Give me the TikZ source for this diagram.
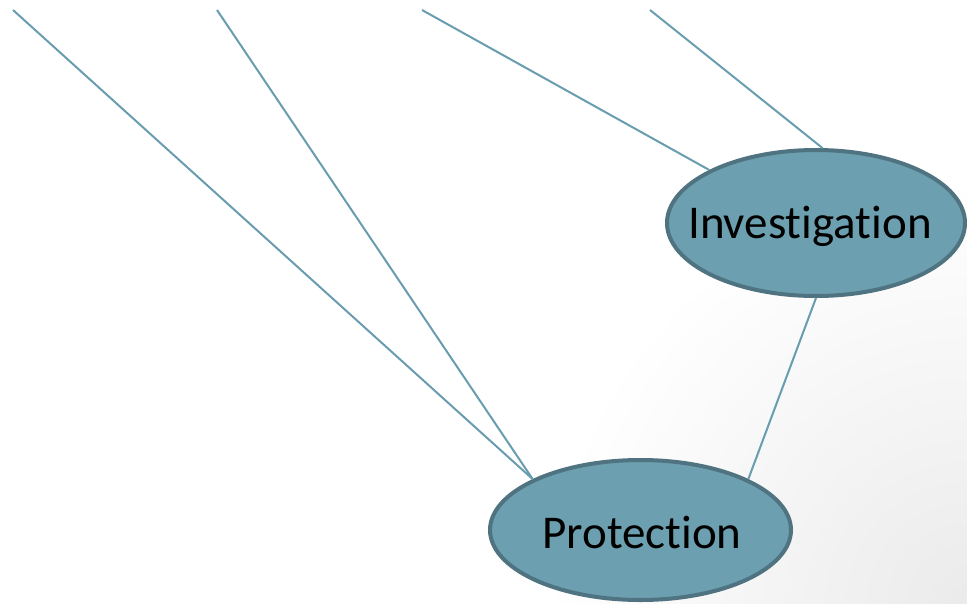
\documentclass[tikz,border=0pt]{standalone}
\usepackage{fontspec}
\setmainfont{Carlito}[Ligatures=NoCommon]
\usetikzlibrary{shapes.geometric}
\definecolor{ellfill}{RGB}{108,159,175}
\definecolor{elldraw}{RGB}{79,115,128}
\definecolor{linkcol}{RGB}{104,157,176}
\tikzset{
  bubble/.style={ellipse, draw=elldraw, fill=ellfill, line width=4pt, inner sep=0pt},
  link/.style={draw=linkcol, line width=2pt},
  lbl/.style={anchor=base, inner sep=0pt, font=\fontsize{47}{50}\selectfont, text=black}
}
\begin{document}
\begin{tikzpicture}[x=1pt,y=-1pt]
\useasboundingbox (0,0) rectangle (967,603);
\begin{scope}
  \clip (0,0) rectangle (967,603);
  \shade[inner color=black!8, outer color=white] (967,603) circle (420);
\end{scope}
% top free ends
\coordinate (t1) at (13,10);
\coordinate (t2) at (217,10);
\coordinate (t3) at (422,10);
\coordinate (t4) at (650,10);
% ellipses
\node[bubble, minimum width=298pt, minimum height=146pt] (inv) at (816,223) {};
\node[bubble, minimum width=301pt, minimum height=140pt] (prot) at (640.5,530) {};
% connectors
\draw[link] (t1) -- (prot.north west);
\draw[link] (t2) -- (prot.north west);
\draw[link] (t3) -- (inv.north west);
\draw[link] (t4) -- (inv.85);
\draw[link] (inv.south) -- (prot.north east);
% labels
\node[lbl] (invt) at (810,238) {Investigation};
\node[lbl] (prott) at (642,548) {Protection};
\end{tikzpicture}
\end{document}
